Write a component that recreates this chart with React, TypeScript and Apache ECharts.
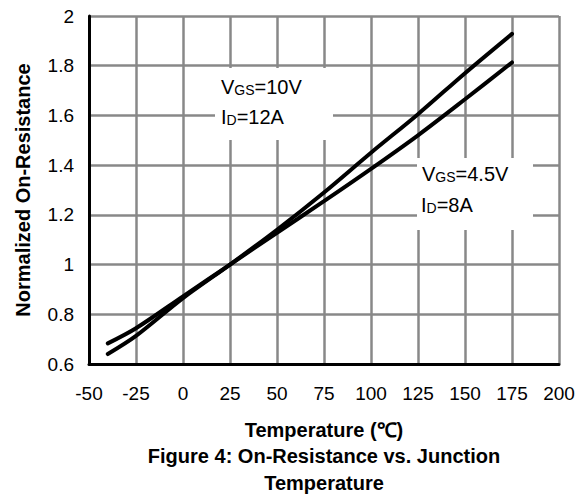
import React, { useEffect, useRef } from "react";
import * as echarts from "echarts";

const temps = [-40, -25, 0, 25, 50, 75, 100, 125, 150, 175];
const rdsVgs10 = [0.64, 0.713, 0.865, 1.0, 1.14, 1.29, 1.45, 1.605, 1.77, 1.928];
const rdsVgs45 = [0.683, 0.744, 0.872, 1.0, 1.128, 1.255, 1.385, 1.52, 1.665, 1.813];

const xTitle = "Temperature (℃)";
const yTitle = "Normalized On-Resistance";
const captionLines = ["Figure 4: On-Resistance vs. Junction", "Temperature"];

const FONT = "Arial, 'Liberation Sans', Helvetica, sans-serif";

const rich = {
  m: { fontSize: 20, lineHeight: 20, fontFamily: FONT, color: "#000" },
  s: { fontSize: 14, lineHeight: 14, fontFamily: FONT, color: "#000", verticalAlign: "bottom" },
};

function labelText(x: number, y: number, text: string) {
  return {
    type: "text",
    x,
    y,
    z: 10,
    style: {
      text,
      rich,
      verticalAlign: "middle",
      align: "left",
      fill: "#000",
    },
  };
}

export default function App() {
  const ref = useRef<HTMLDivElement>(null);
  useEffect(() => {
    if (!ref.current) return;
    const chart = echarts.init(ref.current, undefined, { renderer: "svg" });
    chart.setOption({
      animation: false,
      backgroundColor: "#fff",
      grid: { left: 89, top: 16, right: 27, bottom: 133, containLabel: false },
      xAxis: {
        type: "value",
        min: -50,
        max: 200,
        interval: 25,
        name: xTitle,
        nameLocation: "middle",
        nameGap: 56,
        nameTextStyle: { fontSize: 20, fontWeight: "bold", fontFamily: FONT, color: "#000" },
        axisLine: { onZero: false, lineStyle: { color: "#000", width: 3 } },
        axisTick: { show: false },
        axisLabel: { fontSize: 19, fontFamily: FONT, color: "#000", margin: 20 },
        splitLine: { show: true, lineStyle: { color: "#888", width: 2.5 } },
      },
      yAxis: {
        type: "value",
        min: 0.6,
        max: 2,
        interval: 0.2,
        name: yTitle,
        nameLocation: "middle",
        nameGap: 56,
        nameTextStyle: { fontSize: 20, fontWeight: "bold", fontFamily: FONT, color: "#000" },
        axisLine: { show: true, onZero: false, lineStyle: { color: "#000", width: 3 } },
        axisTick: { show: false },
        axisLabel: { fontSize: 19, fontFamily: FONT, color: "#000", margin: 15 },
        splitLine: { show: true, lineStyle: { color: "#888", width: 2.5 } },
      },
      series: [
        {
          name: "VGS=10V",
          type: "line",
          data: temps.map((t, i) => [t, rdsVgs10[i]]),
          showSymbol: false,
          smooth: 0.3,
          lineStyle: { color: "#000", width: 4, cap: "round" },
          z: 3,
        },
        {
          name: "VGS=4.5V",
          type: "line",
          data: temps.map((t, i) => [t, rdsVgs45[i]]),
          showSymbol: false,
          smooth: 0.3,
          lineStyle: { color: "#000", width: 4, cap: "round" },
          z: 3,
        },
      ],
      graphic: [
        { type: "rect", z: 9, shape: { x: 215, y: 68, width: 118, height: 72 }, style: { fill: "#fff" } },
        { type: "rect", z: 9, shape: { x: 417, y: 158, width: 116, height: 72 }, style: { fill: "#fff" } },
        labelText(221, 87, "{m|V}{s|GS}{m|=10V}"),
        labelText(221, 117, "{m|I}{s|D}{m|=12A}"),
        labelText(422, 174, "{m|V}{s|GS}{m|=4.5V}"),
        labelText(421, 204.5, "{m|I}{s|D}{m|=8A}"),
        {
          type: "text",
          x: 324,
          y: 455.5,
          style: {
            text: captionLines[0],
            fontSize: 20,
            fontWeight: "bold",
            fontFamily: FONT,
            fill: "#000",
            align: "center",
            verticalAlign: "middle",
          },
        },
        {
          type: "text",
          x: 324,
          y: 482.5,
          style: {
            text: captionLines[1],
            fontSize: 20,
            fontWeight: "bold",
            fontFamily: FONT,
            fill: "#000",
            align: "center",
            verticalAlign: "middle",
          },
        },
      ],
    });
    return () => chart.dispose();
  }, []);
  return (
    <div
      ref={ref}
      style={{ position: "fixed", left: 0, top: 0, width: 586, height: 497 }}
    />
  );
}
